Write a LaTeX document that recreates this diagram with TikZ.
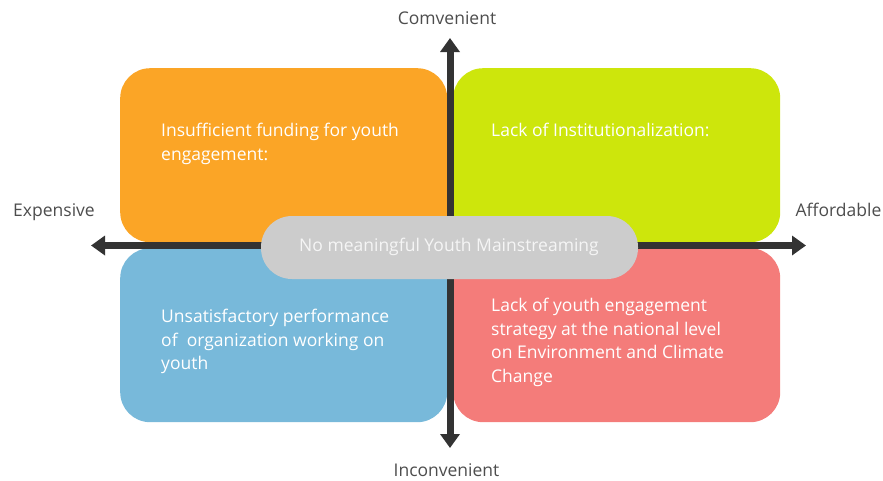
\documentclass[tikz,border=0pt]{standalone}
\usepackage{fontspec}
\setmainfont{Open Sans}
\usetikzlibrary{arrows.meta}
\definecolor{qorange}{HTML}{FBA526}
\definecolor{qgreen}{HTML}{CDE60C}
\definecolor{qblue}{HTML}{78B9DA}
\definecolor{qred}{HTML}{F47C7A}
\definecolor{axisdark}{HTML}{333333}
\definecolor{axislabel}{HTML}{4D4D4D}
\definecolor{pillgrey}{HTML}{CCCCCC}
\begin{document}
\begin{tikzpicture}[x=1pt,y=-1pt,
  quad/.style={rounded corners=30pt,minimum width=327pt,minimum height=174pt,inner sep=0pt,anchor=north west},
  % multi-line nodes: the base anchor sits on the last line's baseline
  quadtext/.style={text=white,font=\fontsize{17.5}{23.6}\selectfont,align=left,anchor=base west,inner sep=0pt},
  axis/.style={draw=axisdark,line width=7pt,-{Triangle[width=19pt,length=14pt]}},
  axislab/.style={text=axislabel,font=\fontsize{17.5}{20}\selectfont,inner sep=0pt,anchor=base}]
\useasboundingbox (0,0) rectangle (883,480);
% quadrants
\node[quad,fill=qorange] (q1) at (120,68) {};
\node[quad,fill=qgreen] (q2) at (453,68) {};
\node[quad,fill=qblue] (q3) at (120,248) {};
\node[quad,fill=qred] (q4) at (453,248) {};
% quadrant texts
\node[quadtext] (t1) at (161,160.3) {Insufficient funding for youth\\engagement:};
\node[quadtext] (t2) at (491,136.7) {Lack of Institutionalization:};
\node[quadtext] (t3) at (161,369.7) {Unsatisfactory performance\\of\ \ organization working on\\youth};
\node[quadtext] (t4) at (491,382.5) {Lack of youth engagement\\strategy at the national level\\on Environment and Climate\\Change};
% axes
\coordinate (c) at (450,245.5);
\coordinate (xl) at (91,245.5);
\coordinate (xr) at (806,245.5);
\coordinate (yt) at (450,38);
\coordinate (yb) at (450,448);
\draw[axis] (c) -- (xl);
\draw[axis] (c) -- (xr);
\draw[axis] (c) -- (yt);
\draw[axis] (c) -- (yb);
% axis labels
\node[axislab] (lt) at (447,24) {Comvenient};
\node[axislab] (lb) at (446.5,476) {Inconvenient};
\node[axislab] (ll) at (54,216) {Expensive};
\node[axislab] (lr) at (838.5,216) {Affordable};
% central pill
\node[fill=pillgrey,rounded corners=31pt,minimum width=377pt,minimum height=63pt,inner sep=0pt] (pill) at (449.5,247.5) {};
\node[text=white!96!black,font=\fontsize{17.5}{20}\selectfont,inner sep=0pt,anchor=base] (pilltext) at (449,251.7) {No meaningful Youth Mainstreaming};
\end{tikzpicture}
\end{document}
